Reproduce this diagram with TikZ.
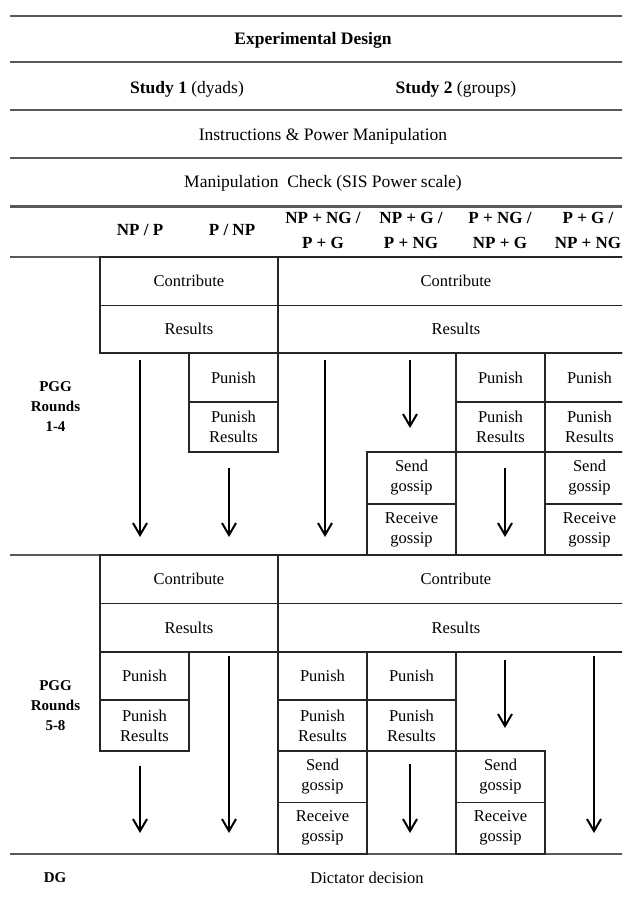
\documentclass[tikz,border=0pt]{standalone}
\usepackage{fontspec}
\setmainfont{Liberation Serif}
\usetikzlibrary{arrows.meta}

\tikzset{
	rule/.style={line width=2.2pt, black!65},
	cell/.style={draw, line width=1.3pt, black!85, text=black, inner sep=0pt, align=center, minimum width=89, font=\fontsize{16.5}{20}\selectfont},
	dbl/.style={minimum width=178},
	full/.style={minimum width=356},
	flow/.style={line width=2pt, -{Straight Barb[length=12pt,width=14pt]}},
	head/.style={font=\fontsize{17.5}{21}\selectfont},
	title/.style={font=\fontsize{17.5}{21}\selectfont\bfseries},
	colhead/.style={font=\fontsize{17}{25}\selectfont\bfseries, align=center},
	side/.style={font=\fontsize{15}{20}\selectfont\bfseries, align=center},
}

\begin{document}
\begin{tikzpicture}[x=1pt,y=-1pt]
		\useasboundingbox (0,0) rectangle (622,898);
		\clip (0,0) rectangle (622,898);
		
		\foreach \y in {16,62,110,158,206.5,257,555,854}
			\draw[rule] (10,\y) -- (640,\y);
		
		\node[title] (title) at (313,40) {Experimental Design};
		\node[head] (study1) at (187,89) {\textbf{Study 1} (dyads)};
		\node[head] (study2) at (456,89) {\textbf{Study 2} (groups)};
		\node[head] (instr) at (323,136) {Instructions \& Power Manipulation};
		\node[head] (check) at (323,183) {Manipulation~ Check (SIS Power scale)};
		
		\node[colhead] (h1) at (140,230) {NP / P};
		\node[colhead] (h2) at (232,230) {P / NP};
		\node[colhead] (h3) at (323,230.5) {NP + NG /\\P + G};
		\node[colhead] (h4) at (411,230.5) {NP + G /\\P + NG};
		\node[colhead] (h5) at (500,230.5) {P + NG /\\NP + G};
		\node[colhead] (h6) at (588,230.5) {P + G /\\NP + NG};
		
		\node[side] (pgg1) at (55.5,407) {PGG\\Rounds\\1-4};
		\node[side] (pgg2) at (55.5,706) {PGG\\Rounds\\5-8};
		\node[side] (dg) at (55,878) {DG};
		\node[head, font=\fontsize{16.5}{20}\selectfont] (dict) at (367,878) {Dictator decision};
		
		% rounds 1-4
		\node[cell, dbl, minimum height=48.5] (conA) at (189,281.25) {Contribute};
		\node[cell, dbl, minimum height=47.5] (resA) at (189,329.25) {Results};
		\node[cell, full, minimum height=48.5] (conB) at (456,281.25) {Contribute};
		\node[cell, full, minimum height=47.5] (resB) at (456,329.25) {Results};
		\node[cell, minimum height=49] (punA2) at (233.5,377.5) {Punish};
		\node[cell, minimum height=50] (presA2) at (233.5,427) {Punish\\Results};
		\node[cell, minimum height=49] (punA5) at (500.5,377.5) {Punish};
		\node[cell, minimum height=50] (presA5) at (500.5,427) {Punish\\Results};
		\node[cell, minimum height=49] (punA6) at (589.5,377.5) {Punish};
		\node[cell, minimum height=50] (presA6) at (589.5,427) {Punish\\Results};
		\node[cell, minimum height=52] (sendA4) at (411.5,478) {Send\\gossip};
		\node[cell, minimum height=51] (recvA4) at (411.5,529.5) {Receive\\gossip};
		\node[cell, minimum height=52] (sendA6) at (589.5,478) {Send\\gossip};
		\node[cell, minimum height=51] (recvA6) at (589.5,529.5) {Receive\\gossip};
		
		\coordinate (a1s) at (140,360);   \coordinate (a1e) at (140,537);
		\coordinate (a2s) at (229,468);   \coordinate (a2e) at (229,537);
		\coordinate (a3s) at (325,360);   \coordinate (a3e) at (325,537);
		\coordinate (a4s) at (410,360);   \coordinate (a4e) at (410,428);
		\coordinate (a5s) at (505,468);   \coordinate (a5e) at (505,537);
		\draw[flow] (a1s) -- (a1e);
		\draw[flow] (a2s) -- (a2e);
		\draw[flow] (a3s) -- (a3e);
		\draw[flow] (a4s) -- (a4e);
		\draw[flow] (a5s) -- (a5e);
		
		% rounds 5-8
		\node[cell, dbl, minimum height=48.5] (conC) at (189,579.25) {Contribute};
		\node[cell, dbl, minimum height=48.5] (resC) at (189,627.75) {Results};
		\node[cell, full, minimum height=48.5] (conD) at (456,579.25) {Contribute};
		\node[cell, full, minimum height=48.5] (resD) at (456,627.75) {Results};
		\node[cell, minimum height=48] (punC1) at (144.5,676) {Punish};
		\node[cell, minimum height=51] (presC1) at (144.5,725.5) {Punish\\Results};
		\node[cell, minimum height=48] (punD3) at (322.5,676) {Punish};
		\node[cell, minimum height=51] (presD3) at (322.5,725.5) {Punish\\Results};
		\node[cell, minimum height=48] (punD4) at (411.5,676) {Punish};
		\node[cell, minimum height=51] (presD4) at (411.5,725.5) {Punish\\Results};
		\node[cell, minimum height=51.5] (sendD3) at (322.5,776.75) {Send\\gossip};
		\node[cell, minimum height=51.5] (recvD3) at (322.5,828.25) {Receive\\gossip};
		\node[cell, minimum height=51.5] (sendD5) at (500.5,776.75) {Send\\gossip};
		\node[cell, minimum height=51.5] (recvD5) at (500.5,828.25) {Receive\\gossip};
		
		\coordinate (b1s) at (140,766);   \coordinate (b1e) at (140,833);
		\coordinate (b2s) at (229,656);   \coordinate (b2e) at (229,833);
		\coordinate (b4s) at (410,764);   \coordinate (b4e) at (410,833);
		\coordinate (b5s) at (505,660);   \coordinate (b5e) at (505,728);
		\coordinate (b6s) at (594,656);   \coordinate (b6e) at (594,833);
		\draw[flow] (b1s) -- (b1e);
		\draw[flow] (b2s) -- (b2e);
		\draw[flow] (b4s) -- (b4e);
		\draw[flow] (b5s) -- (b5e);
		\draw[flow] (b6s) -- (b6e);
\end{tikzpicture}
\end{document}
